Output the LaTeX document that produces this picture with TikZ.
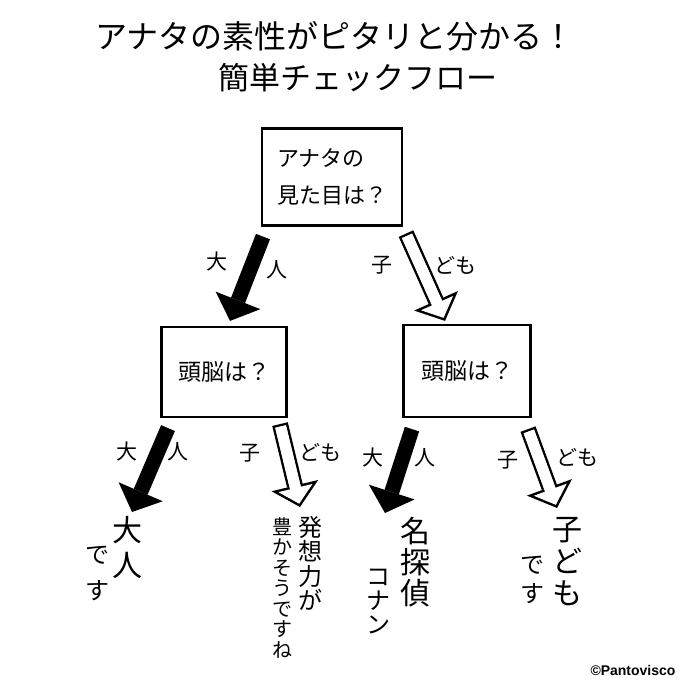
\documentclass[tikz,border=0pt]{standalone}
\usepackage{fontspec}
\setmainfont{Noto Sans CJK JP}
\setsansfont{Liberation Sans}
\usetikzlibrary{positioning, arrows.meta}

\tikzset{
  question/.style={draw, line width=2.2pt, align=left, inner sep=0pt},
  answer/.style={align=center, inner sep=0pt, anchor=north},
  branch/.style={font=\fontsize{21}{24}\selectfont, inner sep=0pt},
  solidarrow/.style={line width=15pt, -{Triangle[length=22pt,width=48pt,line width=0pt]}},
  hollowarrow/.style={line width=16pt, -{Triangle[length=22pt,width=48pt,line width=0pt]},
    postaction={draw=white, line width=11pt, shorten <=2.5pt, shorten >=3.4pt,
      -{Triangle[length=16.1pt,width=35.1pt,line width=0pt]}},
    postaction={draw=white, line width=11pt, shorten <=2.5pt, shorten >=17pt, arrows=-}}
}

\begin{document}
\begin{tikzpicture}[x=1pt, y=-1pt]
  \fill[white] (0,0) rectangle (680,680);

  % title
  \node[font=\fontsize{32}{36}\selectfont, inner sep=0pt] (title) at (335,36) {アナタの素性がピタリと分かる！};
  \node[font=\fontsize{31}{36}\selectfont, inner sep=0pt] (subtitle) at (358,78) {簡単チェックフロー};

  % questions
  \node[question, minimum width=140pt, minimum height=97pt, font=\fontsize{22}{37}\selectfont] (look) at (332,177) {アナタの\\見た目は？};
  \node[question, minimum width=125pt, minimum height=90pt, font=\fontsize{23}{28}\selectfont] (brainL) at (224,372) {頭脳は？};
  \node[question, minimum width=127pt, minimum height=92pt, font=\fontsize{23}{28}\selectfont] (brainR) at (467,371) {頭脳は？};

  % answers
  \node[answer, font=\fontsize{30}{35}\selectfont] (adult) at (127,516) {大\\人};
  \node[answer, font=\fontsize{24}{36}\selectfont] (adultNote) at (97,546) {で\\す};
  \node[answer, font=\fontsize{24}{24.5}\selectfont] (idea) at (310,516) {発\\想\\力\\が};
  \node[answer, font=\fontsize{20}{20.5}\selectfont] (ideaNote) at (282,517) {豊\\か\\そ\\う\\で\\す\\ね};
  \node[answer, font=\fontsize{30}{31}\selectfont] (detective) at (415,517) {名\\探\\偵};
  \node[answer, font=\fontsize{24}{24}\selectfont] (conan) at (378,569) {コ\\ナ\\ン};
  \node[answer, font=\fontsize{30}{32}\selectfont] (child) at (567,517) {子\\ど\\も};
  \node[answer, font=\fontsize{24}{29}\selectfont] (childNote) at (532,556) {で\\す};

  % arrows
  \draw[solidarrow] ([shift={(-69pt,-10pt)}]look.south) -- ([shift={(6pt,5pt)}]brainL.north);
  \draw[hollowarrow] ([shift={(74pt,-7pt)}]look.south) -- ([shift={(-22pt,3pt)}]brainR.north);
  \draw[solidarrow] ([shift={(-56pt,-10pt)}]brainL.south) -- ([shift={(5pt,4pt)}]adult.north);
  \draw[hollowarrow] ([shift={(56pt,-6pt)}]brainL.south) -- ([shift={(-10pt,9pt)}]idea.north);
  \draw[solidarrow] ([shift={(-55pt,-11pt)}]brainR.south) -- ([shift={(-30pt,4pt)}]detective.north);
  \draw[hollowarrow] ([shift={(61pt,-11pt)}]brainR.south) -- ([shift={(-10pt,9pt)}]child.north);

  % branch labels
  \node[branch] (lookA1) at (217,262) {大};
  \node[branch] (lookA2) at (277,270) {人};
  \node[branch] (lookC1) at (382,265) {子};
  \node[branch] (lookC2) at (455,265) {ども};
  \node[branch] (brainLA1) at (127,452) {大};
  \node[branch] (brainLA2) at (178,452) {人};
  \node[branch] (brainLC1) at (250,453) {子};
  \node[branch] (brainLC2) at (320,452) {ども};
  \node[branch] (brainRA1) at (373,458) {大};
  \node[branch] (brainRA2) at (425,458) {人};
  \node[branch] (brainRC1) at (508,460) {子};
  \node[branch] (brainRC2) at (577,457) {ども};

  % credit
  \node[font=\sffamily\bfseries\fontsize{14}{16}\selectfont, inner sep=0pt] (credit) at (633,670) {©Pantovisco};
\end{tikzpicture}
\end{document}
